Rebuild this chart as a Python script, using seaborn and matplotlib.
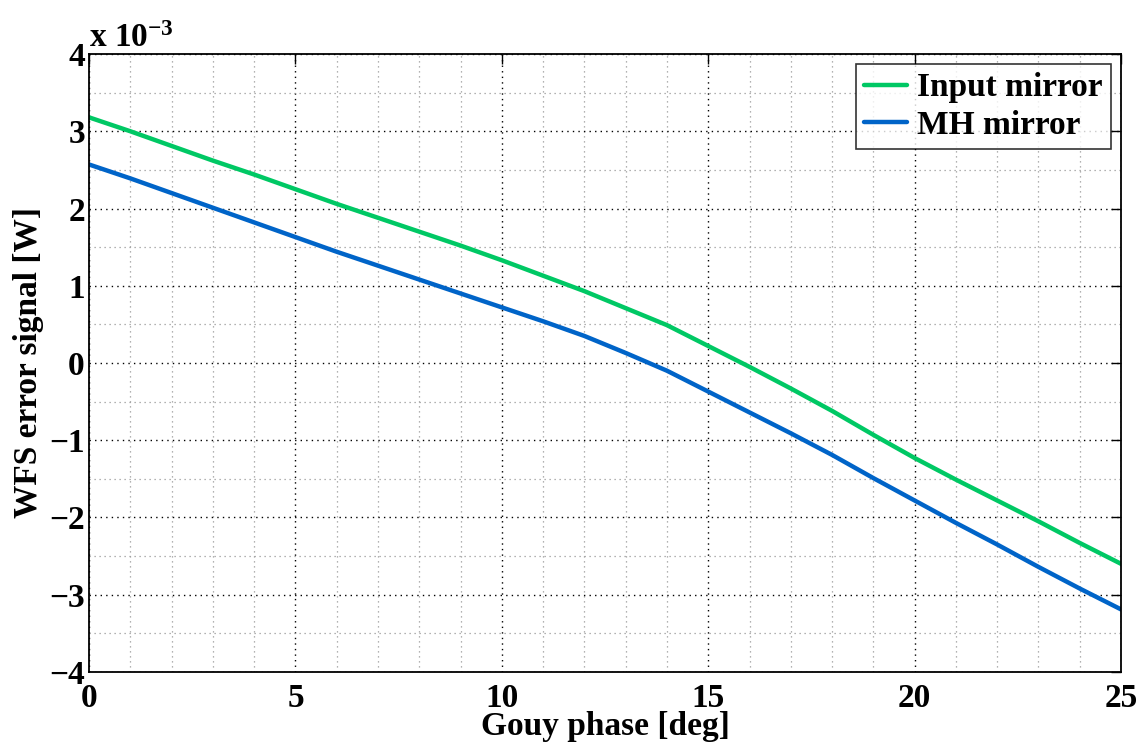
import numpy as np
import pandas as pd
import matplotlib
matplotlib.use("Agg")
import matplotlib.pyplot as plt
import seaborn as sns
from matplotlib.ticker import MultipleLocator

# Data (WFS error signal in units of 1e-3 W)
gouy_phase = [0, 1, 2, 3, 4, 5, 6, 7, 8, 9, 10, 11, 12, 13, 14, 15, 16, 17,
              18, 19, 20, 21, 22, 23, 24, 25]
input_mirror = [3.18, 3.00, 2.81, 2.62, 2.44, 2.25, 2.06, 1.88, 1.70, 1.52,
                1.33, 1.13, 0.93, 0.71, 0.49, 0.22, -0.05, -0.33, -0.62,
                -0.93, -1.23, -1.51, -1.78, -2.05, -2.33, -2.60]
mh_mirror = [2.57, 2.39, 2.20, 2.01, 1.82, 1.63, 1.44, 1.26, 1.08, 0.90,
             0.72, 0.54, 0.35, 0.13, -0.10, -0.37, -0.64, -0.91, -1.19,
             -1.49, -1.78, -2.07, -2.35, -2.64, -2.92, -3.19]
series_names = ["Input mirror", "MH mirror"]
colors = ["#00c864", "#0064c8"]
x_ticks = [0, 5, 10, 15, 20, 25]
y_ticks = [-4, -3, -2, -1, 0, 1, 2, 3, 4]

df = pd.concat([
    pd.DataFrame({"x": gouy_phase, "y": input_mirror, "series": series_names[0]}),
    pd.DataFrame({"x": gouy_phase, "y": mh_mirror, "series": series_names[1]}),
])

sns.set_theme(style="white")
plt.rcParams["font.family"] = ["Liberation Serif", "DejaVu Serif"]
plt.rcParams["font.weight"] = "bold"
plt.rcParams["text.color"] = "black"
plt.rcParams["axes.labelcolor"] = "black"
plt.rcParams["xtick.color"] = "black"
plt.rcParams["ytick.color"] = "black"
plt.rcParams["mathtext.fontset"] = "custom"
plt.rcParams["mathtext.rm"] = "Liberation Serif:bold"
plt.rcParams["mathtext.it"] = "Liberation Serif:bold"
plt.rcParams["mathtext.bf"] = "Liberation Serif:bold"

FS = 24

fig = plt.figure(figsize=(11.43, 7.44), dpi=100)
ax = fig.add_axes([0.0779, 0.0968, 0.9029, 0.8306])

sns.lineplot(data=df, x="x", y="y", hue="series", palette=colors,
             linewidth=3.2, ax=ax, legend=True)

ax.set_xlim(0, 25)
ax.set_ylim(-4, 4)
ax.set_xticks(x_ticks)
ax.set_yticks(y_ticks)
ax.set_xticklabels([str(t) for t in x_ticks])
ax.set_yticklabels([str(t).replace("-", "\u2212") for t in y_ticks])
ax.xaxis.set_minor_locator(MultipleLocator(1))
ax.yaxis.set_minor_locator(MultipleLocator(0.5))

ax.grid(True, which="major", color="black", linestyle=(0, (1, 3)), linewidth=1.0)
ax.grid(True, which="minor", color="#999999", linestyle=(0, (1, 3)), linewidth=0.9)
ax.set_axisbelow(True)

ax.tick_params(axis="x", which="major", pad=8)
ax.tick_params(axis="y", which="major", pad=3)
ax.tick_params(which="major", direction="in", length=7, width=1, top=True, right=True,
               labelsize=FS, colors="black")
ax.tick_params(which="minor", length=0)
for lbl in ax.get_xticklabels() + ax.get_yticklabels():
    lbl.set_fontweight("bold")
for s in ax.spines.values():
    s.set_color("black")
    s.set_linewidth(1.3)

ax.set_xlabel("Gouy phase [deg]", fontsize=FS, fontweight="bold", labelpad=-2, color="black")
ax.set_ylabel("WFS error signal [W]", fontsize=FS, fontweight="bold", labelpad=4, color="black")

ax.text(0.0, 1.0, "x 10$^{-3}$", transform=ax.transAxes,
        fontsize=FS, fontweight="bold", ha="left", va="bottom", color="black")

leg = ax.legend(loc="upper right", fontsize=FS, frameon=True, fancybox=False,
                handlelength=1.3, handletextpad=0.3, borderpad=0.25,
                labelspacing=0.2, borderaxespad=0.3, title=None)
leg.get_frame().set_edgecolor("black")
leg.get_frame().set_linewidth(1.2)
for h in leg.get_lines():
    h.set_linewidth(3.2)
for t in leg.get_texts():
    t.set_fontweight("bold")
    t.set_color("black")

fig.savefig("out.png", dpi=100)
